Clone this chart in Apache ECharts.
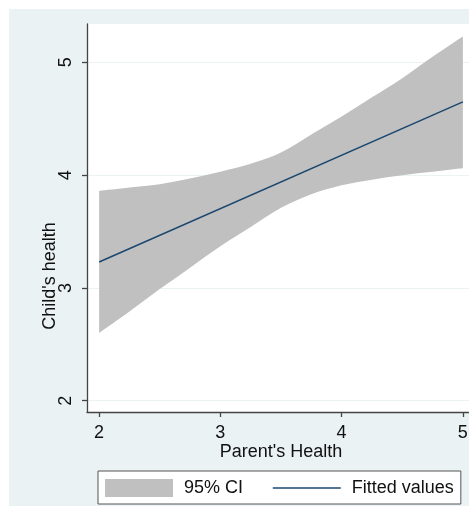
<!DOCTYPE html>
<html>
<head>
<meta charset="utf-8">
<script src="https://cdn.jsdelivr.net/npm/echarts@6/dist/echarts.min.js"></script>
<style>
html,body{margin:0;padding:0;background:#ffffff;overflow:hidden;width:469px;height:506px;}
#chart{position:absolute;left:9px;top:9px;width:481px;height:497px;}
</style>
</head>
<body>
<div id="chart"></div>
<script>
// Data
const ciX = [2, 2.25, 2.5, 2.75, 3, 3.25, 3.5, 3.75, 4, 4.25, 4.5, 4.75, 5];
const ciUpper = [3.86, 3.89, 3.92, 3.97, 4.03, 4.10, 4.20, 4.36, 4.52, 4.69, 4.86, 5.05, 5.23];
const ciLower = [2.60, 2.79, 2.99, 3.18, 3.37, 3.54, 3.71, 3.83, 3.91, 3.96, 4.00, 4.03, 4.06];
const fitX = [2, 5];
const fitY = [3.23, 4.65];
const xTicks = [2, 3, 4, 5];
const yTicks = [2, 3, 4, 5];
const seriesNames = ['95% CI', 'Fitted values'];
const xTitle = "Parent's Health";
const yTitle = "Child's health";

const FONT = "'Liberation Sans', Arial, sans-serif";
const BAND = '#C0C0C0';
const LINE = '#1A476F';
const chart = echarts.init(document.getElementById('chart'), null, {renderer: 'canvas'});

// Smooth curve through pixel points (Catmull-Rom as cubic Bezier commands)
function curveThrough(pts) {
  let d = '';
  for (let i = 0; i < pts.length - 1; i++) {
    const p0 = pts[Math.max(i - 1, 0)], p1 = pts[i], p2 = pts[i + 1], p3 = pts[Math.min(i + 2, pts.length - 1)];
    const c1 = [p1[0] + (p2[0] - p0[0]) / 6, p1[1] + (p2[1] - p0[1]) / 6];
    const c2 = [p2[0] - (p3[0] - p1[0]) / 6, p2[1] - (p3[1] - p1[1]) / 6];
    d += ' C' + c1[0] + ',' + c1[1] + ' ' + c2[0] + ',' + c2[1] + ' ' + p2[0] + ',' + p2[1];
  }
  return d;
}

chart.setOption({
  animation: false,
  backgroundColor: '#EAF2F3',
  textStyle: {fontFamily: FONT},
  grid: {
    left: 78, right: 15, top: 15, bottom: 94,
    show: true, backgroundColor: '#ffffff', borderWidth: 0
  },
  xAxis: {
    type: 'value', min: 1.9, max: 5.1,
    name: xTitle, nameLocation: 'middle', nameGap: 31, nameMoveOverlap: false,
    nameTextStyle: {fontSize: 18, color: '#111', fontFamily: FONT},
    axisLine: {show: true, lineStyle: {color: '#444', width: 1.3}},
    axisTick: {show: true, length: 5, lineStyle: {color: '#444', width: 1.3}, customValues: xTicks},
    axisLabel: {fontSize: 18, color: '#111', margin: 12, fontFamily: FONT, customValues: xTicks},
    splitLine: {show: false}
  },
  yAxis: {
    type: 'value', min: 1.9, max: 5.34,
    name: yTitle, nameLocation: 'middle', nameGap: 28, nameRotate: 90, nameMoveOverlap: false,
    nameTextStyle: {fontSize: 18, color: '#111', fontFamily: FONT, padding: [0, 116, 0, 0]},
    axisLine: {show: true, lineStyle: {color: '#444', width: 1.3}},
    axisTick: {show: true, length: 5, lineStyle: {color: '#444', width: 1.3}, customValues: yTicks},
    axisLabel: {fontSize: 18, color: '#111', margin: 12, rotate: 90, fontFamily: FONT, customValues: yTicks},
    splitLine: {show: true, lineStyle: {color: '#EAF2F3', width: 1}}
  },
  legend: {
    left: 89, top: 462,
    padding: [8, 7, 7, 7],
    itemWidth: 68, itemHeight: 18, itemGap: 29,
    backgroundColor: '#ffffff', borderColor: '#555', borderWidth: 1, borderRadius: 0,
    textStyle: {fontSize: 18, color: '#111', fontFamily: FONT, padding: [0, 0, 0, 6], lineHeight: 18},
    data: [
      {name: seriesNames[0], icon: 'rect', itemStyle: {color: BAND, borderWidth: 0}},
      {name: seriesNames[1], itemStyle: {opacity: 0}, lineStyle: {color: LINE, width: 1.5}}
    ]
  },
  series: [
    {
      name: seriesNames[0], type: 'custom', silent: true,
      coordinateSystem: 'cartesian2d',
      itemStyle: {color: BAND},
      data: [[ciX[0], ciLower[0]]],
      renderItem: function (params, api) {
        const up = ciX.map((x, i) => api.coord([x, ciUpper[i]]));
        const lo = ciX.map((x, i) => api.coord([x, ciLower[i]])).reverse();
        const d = 'M' + up[0][0] + ',' + up[0][1] + curveThrough(up) +
                  ' L' + lo[0][0] + ',' + lo[0][1] + curveThrough(lo) + ' Z';
        return {
          type: 'path',
          shape: {pathData: d},
          style: {fill: BAND, stroke: null}
        };
      },
      z: 1
    },
    {
      name: seriesNames[1], type: 'line', silent: true,
      data: fitX.map((x, i) => [x, fitY[i]]),
      symbol: 'none',
      itemStyle: {color: LINE},
      lineStyle: {color: LINE, width: 1.5},
      z: 3
    }
  ]
});
</script>
</body>
</html>
